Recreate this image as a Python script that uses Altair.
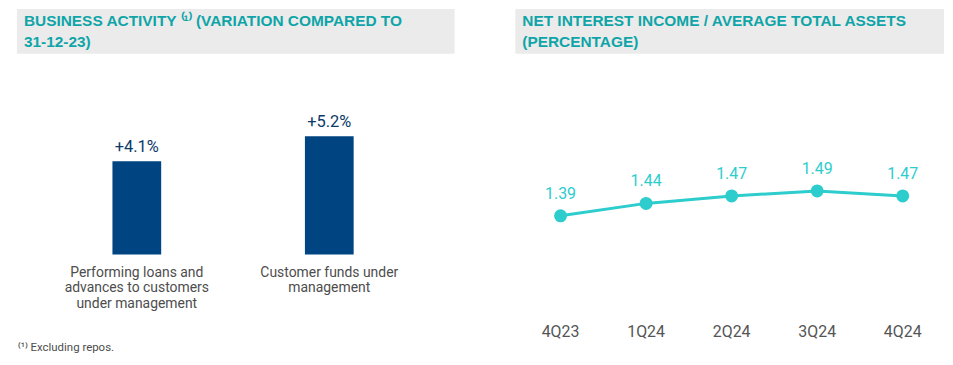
import altair as alt
import pandas as pd

# ---- data ----
bar_categories = ["Performing loans and\nadvances to customers\nunder management",
                  "Customer funds under\nmanagement"]
bar_values = [4.1, 5.2]
bar_labels = ["+4.1%", "+5.2%"]

quarters = ["4Q23", "1Q24", "2Q24", "3Q24", "4Q24"]
nii_values = [1.39, 1.44, 1.47, 1.49, 1.47]

left_title = ["BUSINESS ACTIVITY \u207d\u00b9\u207e (VARIATION COMPARED TO", "31-12-23)"]
right_title = ["NET INTEREST INCOME / AVERAGE TOTAL ASSETS", "(PERCENTAGE)"]
footnote = "\u207d\u00b9\u207e Excluding repos."

# ---- styles ----
TEAL = "#0fa5a8"
NAVY = "#004481"
AQUA = "#2dcccd"
GREY_BOX = "#ebebeb"
TEXT_GREY = "#4d4d4d"
FONT = "Roboto"
TFONT = "Liberation Sans"

bars_df = pd.DataFrame({"cat": bar_categories, "val": bar_values, "lab": bar_labels})
line_df = pd.DataFrame({"q": quarters, "v": nii_values})


def title_layers(lines, x0, x1):
    box = alt.Chart(pd.DataFrame({"a": [0]})).mark_rect(color=GREY_BOX).encode(
        x=alt.value(x0), x2=alt.value(x1), y=alt.value(0), y2=alt.value(45)
    )
    txt = alt.Chart(pd.DataFrame({"t": lines, "y": [12, 33]})).mark_text(
        align="left", baseline="middle", font=TFONT, fontWeight="bold",
        fontSize=15.5, color=TEAL
    ).encode(x=alt.value(x0 + 7), y=alt.Y("y:Q", scale=None), text="t:N")
    return [box, txt]


# ---- left panel ----
xb = alt.X("cat:N", sort=bar_categories, axis=None,
           scale=alt.Scale(type="point", range=[127.5, 321], padding=0))
yb = alt.Y("val:Q", axis=None,
           scale=alt.Scale(domain=[0, 5.2], range=[247, 128], nice=False, zero=True))

bars = alt.Chart(bars_df).mark_bar(width=49, color=NAVY).encode(x=xb, y=yb)
bar_text = alt.Chart(bars_df).mark_text(
    font=FONT, fontSize=16.5, color="#0b3a6a", dy=-14, baseline="middle"
).encode(x=xb, y=yb, text="lab:N")
cat_text = alt.Chart(bars_df).mark_text(
    font=FONT, fontSize=14, color=TEXT_GREY, baseline="top", lineBreak="\n", lineHeight=16
).encode(x=xb, y=alt.value(258), text="cat:N")
foot = alt.Chart(pd.DataFrame({"t": [footnote]})).mark_text(
    align="left", baseline="middle", font=FONT, fontSize=11.5, color=TEXT_GREY
).encode(x=alt.value(8), y=alt.value(341), text="t:N")

left = alt.layer(*title_layers(left_title, 7, 447), bars, bar_text, cat_text, foot).properties(
    width=455, height=350
)

# ---- right panel ----
xl = alt.X("q:N", sort=quarters, axis=None,
           scale=alt.Scale(type="point", range=[53.5, 397.5], padding=0))
yl = alt.Y("v:Q", axis=None,
           scale=alt.Scale(domain=[1.39, 1.49], range=[208, 183], nice=False, zero=False))

line = alt.Chart(line_df).mark_line(color=AQUA, strokeWidth=3).encode(x=xl, y=yl)
pts = alt.Chart(line_df).mark_point(filled=True, size=170, color=AQUA, opacity=1).encode(x=xl, y=yl)
vals = alt.Chart(line_df).mark_text(
    font=FONT, fontSize=16, color=AQUA, dy=-22, baseline="middle"
).encode(x=xl, y=yl, text=alt.Text("v:Q", format=".2f"))
qlab = alt.Chart(line_df).mark_text(
    font=FONT, fontSize=16, color="#555555", baseline="middle"
).encode(x=xl, y=alt.value(325), text="q:N")

right = alt.layer(*title_layers(right_title, 8, 439), line, pts, vals, qlab).properties(
    width=440, height=350
)

chart = alt.hconcat(left, right, spacing=45).properties(
    padding={"left": 2, "top": 0, "right": 0, "bottom": 0}
).configure_view(stroke=None)

chart.save("out.html", embed_options={"renderer": "svg", "actions": False})
